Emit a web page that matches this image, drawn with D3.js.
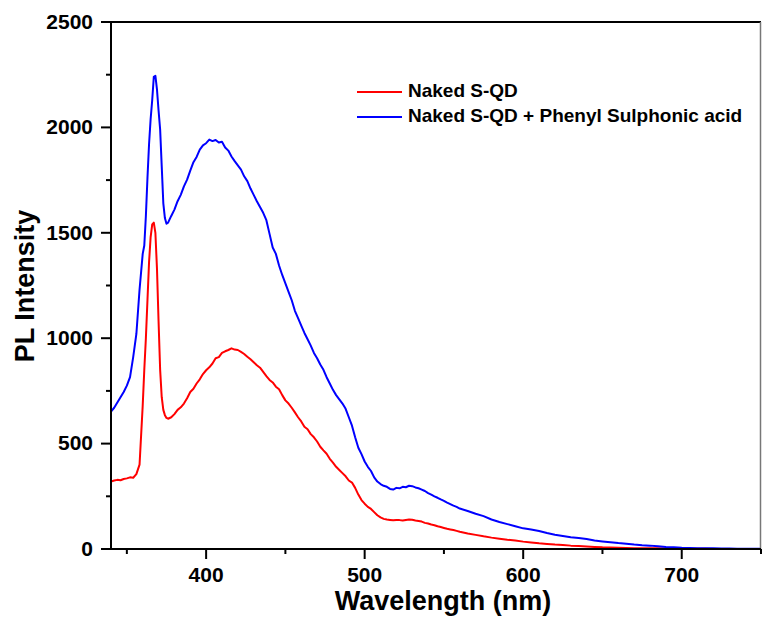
<!DOCTYPE html>
<html>
<head>
<meta charset="utf-8">
<script src="https://cdn.jsdelivr.net/npm/d3@7"></script>
<style>
  body { margin: 0; background: #fff; }
  text { font-family: "Liberation Sans", Arial, sans-serif; font-weight: bold; fill: #000; }
  .axis path, .axis line { stroke: #000; stroke-width: 2px; }
  .line { fill: none; stroke-width: 2px; stroke-linejoin: round; }
</style>
</head>
<body>
<div id="chart"></div>
<script>
// Wavelength grid (nm), denser around the sharp peak
var wavelength = [
  340, 342, 344, 346, 348, 350, 352, 354, 356, 358,
  360, 361, 362, 363, 364, 365, 366, 367, 368, 369, 370, 371, 372, 373, 374, 375, 376,
  378, 380, 382, 384, 386, 388, 390, 392, 394, 396, 398,
  400, 402, 404, 406, 408, 410, 412, 414, 416, 418,
  420, 422, 424, 426, 428, 430, 432, 434, 436, 438,
  440, 442, 444, 446, 448, 450, 452, 454, 456, 458,
  460, 462, 464, 466, 468, 470, 472, 474, 476, 478,
  480, 482, 484, 486, 488, 490, 492, 494, 496, 498,
  500, 502, 504, 506, 508, 510, 512, 514, 516, 518,
  520, 522, 524, 526, 528, 530, 532, 534, 536, 538,
  540, 542, 544, 546, 548, 550, 552, 554, 556, 558,
  560,
  565, 570, 575, 580, 585, 590, 595, 600,
  605, 610, 615, 620, 625, 630, 635, 640, 645, 650,
  655, 660, 665, 670, 675, 680, 685, 690, 695, 700,
  705, 710, 715, 720, 725, 730, 735, 740, 745, 750
];

// Naked S-QD
var nakedQD = [
  320, 325, 328, 326, 332, 335, 340, 338, 355, 400,
  680, 850, 1000, 1180, 1360, 1480, 1540, 1548, 1500, 1330, 1080, 850, 720, 660, 635, 622, 618,
  625, 640, 660, 672, 690, 715, 745, 760, 785, 805, 830,
  848, 862, 880, 905, 910, 930, 938, 944, 952, 946,
  944, 935, 925, 912, 900, 886, 872, 860, 840, 820,
  802, 790, 770, 758, 730, 705, 690, 670, 648, 625,
  605, 580, 568, 545, 530, 510, 485, 468, 452, 428,
  410, 390, 375, 360, 345, 325, 315, 290, 258, 232,
  215, 200, 190, 175, 160, 150, 143, 140, 138, 136,
  138, 137, 135, 138, 140, 139, 135, 133, 130, 124,
  121, 116, 113, 108, 104, 100, 96, 93, 90, 86,
  82,
  74, 67, 60, 54, 49, 44, 40, 35,
  31, 27, 24, 21, 19, 16, 14, 12, 10, 8,
  7, 6, 5, 4, 4, 3, 3, 2, 2, 2,
  1, 1, 1, 0, 0, 0, 0, 0, 0, 0
];

// Naked S-QD + Phenyl Sulphonic acid
var withAcid = [
  652, 670, 695, 720, 745, 775, 815, 910, 1020, 1230,
  1400, 1440, 1580, 1760, 1920, 2040, 2130, 2240, 2245, 2180, 2080, 1990, 1815, 1640, 1570, 1543, 1548,
  1580, 1610, 1650, 1680, 1720, 1752, 1795, 1835, 1860, 1895, 1915,
  1925, 1942, 1935, 1940, 1928, 1932, 1905, 1890, 1862, 1840,
  1820, 1800, 1768, 1745, 1710, 1680, 1650, 1622, 1595, 1560,
  1495, 1430, 1400, 1345, 1300, 1260, 1220, 1180, 1130, 1095,
  1060, 1025, 995, 965, 930, 905, 875, 850, 815, 785,
  755, 730, 710, 690, 665, 625, 585, 530, 480, 450,
  415, 390, 370, 340, 320, 308, 300, 295, 285, 282,
  290, 288, 295, 293, 300, 298, 292, 288, 282, 275,
  265, 258, 250, 243, 235, 228, 220, 213, 206, 200,
  192,
  180, 167, 156, 140, 128, 118, 108, 98,
  92, 85, 76, 68, 62, 56, 52, 47, 40, 36,
  32, 28, 25, 21, 18, 16, 13, 10, 8, 6,
  5, 4, 3, 3, 2, 2, 1, 1, 1, 1
];

var seriesNames = ["Naked S-QD", "Naked S-QD + Phenyl Sulphonic acid"];
var seriesColors = ["#ff0000", "#0000ff"];

var xMajorTicks = [400, 500, 600, 700];
var xMinorTicks = [350, 450, 550, 650, 750];
var yMajorTicks = [0, 500, 1000, 1500, 2000, 2500];
var yMinorTicks = [250, 750, 1250, 1750, 2250];

// SVG area
var svgWidth = 762;
var svgHeight = 622;

var chartMargin = { top: 22, right: 1, bottom: 73, left: 111 };

var chartWidth = svgWidth - chartMargin.left - chartMargin.right;
var chartHeight = svgHeight - chartMargin.top - chartMargin.bottom;

var svg = d3.select("#chart")
  .append("svg")
  .attr("width", svgWidth)
  .attr("height", svgHeight);

var chartGroup = svg.append("g")
  .attr("transform", `translate(${chartMargin.left}, ${chartMargin.top})`);

// scales
var xScale = d3.scaleLinear()
  .domain([340, 750])
  .range([0, chartWidth]);

var yScale = d3.scaleLinear()
  .domain([0, 2500])
  .range([chartHeight, 0]);

// clip lines to the frame
chartGroup.append("clipPath")
  .attr("id", "clip")
  .append("rect")
  .attr("width", chartWidth)
  .attr("height", chartHeight);

var series = [nakedQD, withAcid];

var drawLine = d3.line()
  .x(d => xScale(d[0]))
  .y(d => yScale(d[1]));

series.forEach(function(values, i) {
  var points = wavelength.map((w, j) => [w, values[j]]);
  chartGroup.append("path")
    .attr("class", "line")
    .attr("clip-path", "url(#clip)")
    .attr("stroke", seriesColors[i])
    .attr("d", drawLine(points));
});

// frame: top and right edges
chartGroup.append("line")
  .attr("x1", 0).attr("x2", chartWidth)
  .attr("y1", 0).attr("y2", 0)
  .attr("stroke", "#000")
  .attr("stroke-width", 2);

chartGroup.append("line")
  .attr("x1", chartWidth - 0.5).attr("x2", chartWidth - 0.5)
  .attr("y1", 0).attr("y2", chartHeight)
  .attr("stroke", "#777")
  .attr("stroke-width", 1.5);

// minor ticks
chartGroup.append("g")
  .attr("class", "axis")
  .attr("transform", `translate(0, ${chartHeight})`)
  .call(d3.axisBottom(xScale).tickValues(xMinorTicks).tickSize(5).tickFormat("").offset(0))
  .select(".domain").remove();

chartGroup.append("g")
  .attr("class", "axis")
  .call(d3.axisLeft(yScale).tickValues(yMinorTicks).tickSize(5).tickFormat("").offset(0))
  .select(".domain").remove();

// major axes
var bottomAxis = d3.axisBottom(xScale)
  .tickValues(xMajorTicks)
  .tickFormat(d3.format("d"))
  .tickSize(10)
  .tickSizeOuter(0)
  .tickPadding(8)
  .offset(0);

var leftAxis = d3.axisLeft(yScale)
  .tickValues(yMajorTicks)
  .tickFormat(d3.format("d"))
  .tickSize(10)
  .tickSizeOuter(0)
  .tickPadding(8)
  .offset(0);

chartGroup.append("g")
  .attr("class", "axis")
  .attr("transform", `translate(0, ${chartHeight})`)
  .call(bottomAxis)
  .selectAll("text")
  .style("font-size", "21px");

chartGroup.append("g")
  .attr("class", "axis")
  .call(leftAxis)
  .selectAll("text")
  .style("font-size", "21px");

// axis titles
svg.append("text")
  .attr("x", 443)
  .attr("y", 610)
  .style("text-anchor", "middle")
  .style("font-size", "27px")
  .text("Wavelength (nm)");

svg.append("text")
  .attr("transform", "translate(34, 286) rotate(-90)")
  .style("text-anchor", "middle")
  .style("font-size", "27px")
  .text("PL Intensity");

// legend
var legend = svg.append("g")
  .attr("transform", "translate(357, 92)");

seriesNames.forEach(function(name, i) {
  var row = legend.append("g")
    .attr("transform", `translate(0, ${i * 25})`);
  row.append("line")
    .attr("x1", 0).attr("x2", 45)
    .attr("stroke", seriesColors[i])
    .attr("stroke-width", 2);
  row.append("text")
    .attr("x", 51)
    .attr("y", 5)
    .style("font-size", "19px")
    .text(name);
});
</script>
</body>
</html>
